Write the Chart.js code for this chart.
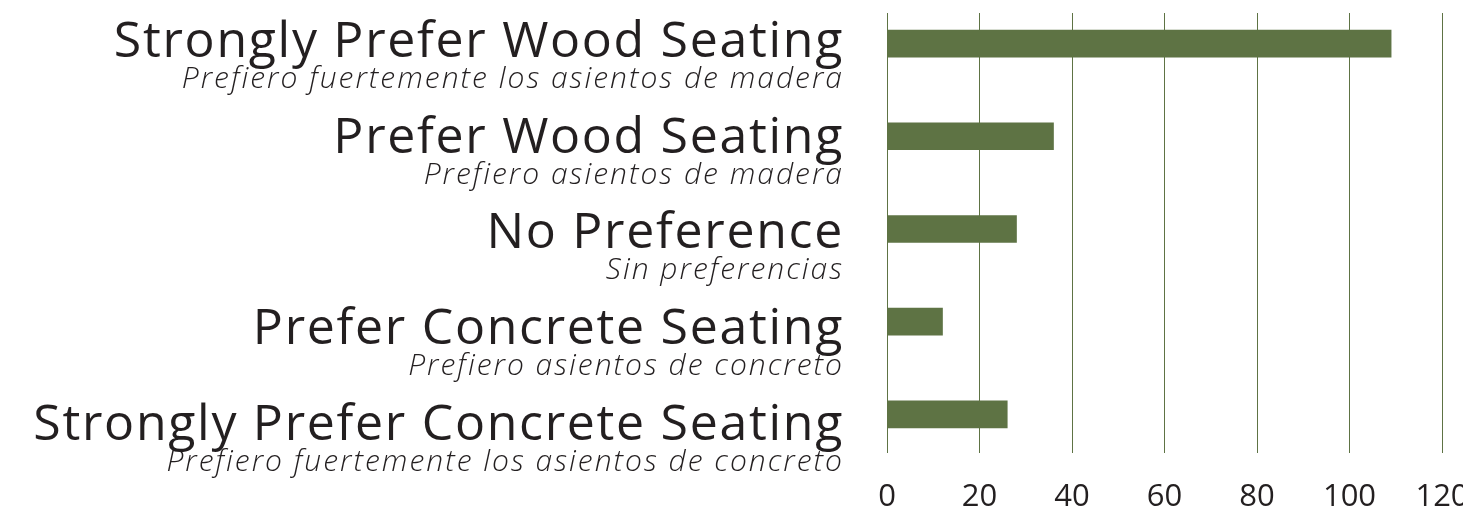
<!DOCTYPE html>
<html>
<head>
<meta charset="utf-8">
<script src="https://cdn.jsdelivr.net/npm/chart.js@4"></script>
<style>
  html, body { margin: 0; padding: 0; background: #fff; }
  #wrap { width: 1463px; height: 530px; }
</style>
</head>
<body>
<div id="wrap"><canvas id="grafico"></canvas></div>
<script>
// categorias (ingles / espanol) e valores
const categoriasEn = [
    "Strongly Prefer Wood Seating",
    "Prefer Wood Seating",
    "No Preference",
    "Prefer Concrete Seating",
    "Strongly Prefer Concrete Seating"
];
const categoriasEs = [
    "Prefiero fuertemente los asientos de madera",
    "Prefiero asientos de madera",
    "Sin preferencias",
    "Prefiero asientos de concreto",
    "Prefiero fuertemente los asientos de concreto"
];
const respostas = [109, 36, 28, 12, 26];
const ticksX = [0, 20, 40, 60, 80, 100, 120];

const VERDE = "#5e7344";
const TEXTO = "#231f20";
const FONTE = "'Open Sans', 'Noto Sans', sans-serif";

// ==========================
// RÓTULOS DAS CATEGORIAS
// ==========================
const rotulos = {
    id: "rotulos",
    afterDraw(chart) {
        const ctx = chart.ctx;
        const escala = chart.scales.yl;
        ctx.save();
        ctx.fillStyle = TEXTO;
        ctx.textAlign = "right";
        ctx.textBaseline = "alphabetic";
        categoriasEn.forEach((txt, i) => {
            const y = escala.getPixelForValue(i);
            ctx.font = "400 50px " + FONTE;
            ctx.letterSpacing = "1.7px";
            ctx.fillText(txt, 844, y);
            ctx.font = "italic 300 30px " + FONTE;
            ctx.letterSpacing = "2px";
            ctx.fillText(categoriasEs[i], 844, y + 31);
        });
        ctx.restore();
    }
};

const dados = respostas.map((v, i) => ({ x: v, y: i }));

// eixo vertical "invisivel" mas presente no layout
const eixoOculto = (min, max) => ({
    type: "linear",
    reverse: true,
    min: min,
    max: max,
    offset: false,
    afterBuildTicks: s => { s.ticks = []; },
    afterFit: s => { s.width = 0; },
    grid: { display: false, drawTicks: false },
    border: { display: false },
    ticks: { display: false }
});

new Chart(document.getElementById("grafico"), {
    type: "bar",
    data: {
        datasets: [{
            data: dados,
            backgroundColor: VERDE,
            borderWidth: 0,
            barThickness: 27
        }]
    },
    options: {
        indexAxis: "y",
        responsive: true,
        maintainAspectRatio: false,
        animation: false,
        layout: { padding: { left: 887, right: 21, top: 13, bottom: 0 } },
        plugins: { legend: { display: false }, tooltip: { enabled: false } },
        scales: {
            x: {
                type: "linear",
                min: 0,
                max: 120,
                afterBuildTicks: s => { s.ticks = ticksX.map(v => ({ value: v })); },
                afterFit: s => { s.paddingLeft = 0; s.paddingRight = 0; s.height = 77; },
                grid: { color: VERDE, lineWidth: 1, drawTicks: false },
                border: { display: false },
                ticks: {
                    color: TEXTO,
                    padding: 26,
                    maxRotation: 0,
                    font: { family: FONTE, size: 31, weight: "400" }
                }
            },
            y: eixoOculto(-0.33, 4.417),
            yl: Object.assign(eixoOculto(-0.457, 4.137), { axis: "y" })
        }
    },
    plugins: [rotulos]
});
</script>
</body>
</html>
